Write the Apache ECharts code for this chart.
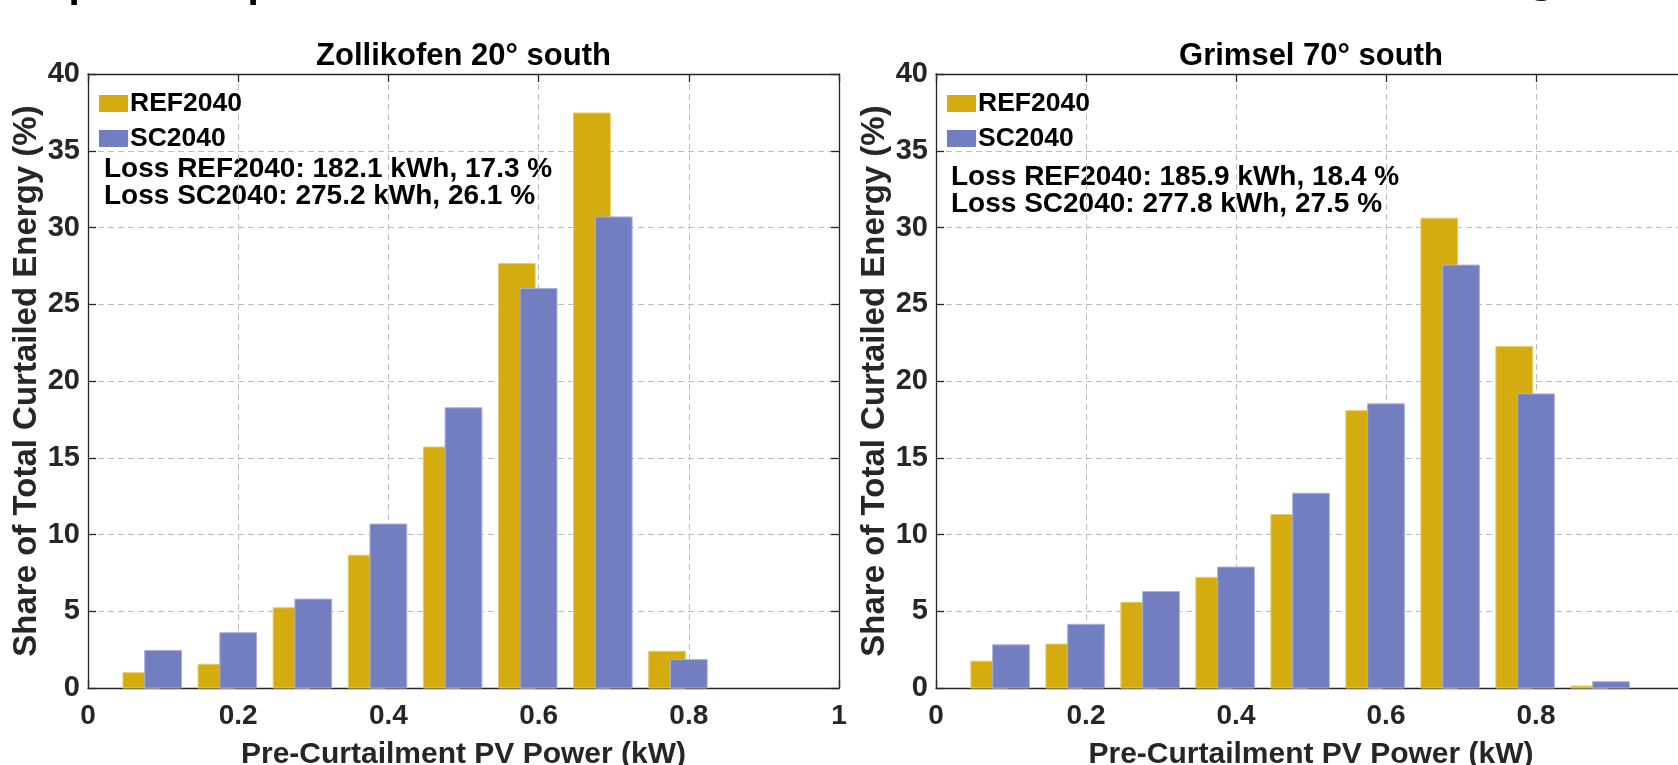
<!DOCTYPE html>
<html>
<head>
<meta charset="utf-8">
<script src="https://cdn.jsdelivr.net/npm/echarts@6/dist/echarts.min.js"></script>
<style>
html,body{margin:0;padding:0;background:#fff;}
#chart{width:1678px;height:765px;}
</style>
</head>
<body>
<div id="chart"></div>
<script>
// ---- data ----
const binCenters = [0.1, 0.2, 0.3, 0.4, 0.5, 0.6, 0.7, 0.8, 0.9];
const zolREF = [1.0, 1.55, 5.23, 8.65, 15.7, 27.65, 37.46, 2.39, 0];
const zolSC  = [2.45, 3.6, 5.79, 10.68, 18.25, 26.03, 30.69, 1.85, 0];
const griREF = [1.75, 2.86, 5.59, 7.21, 11.3, 18.07, 30.61, 22.24, 0.13];
const griSC  = [2.81, 4.15, 6.28, 7.88, 12.69, 18.51, 27.55, 19.16, 0.41];
const seriesNames = ['REF2040', 'SC2040'];
const panelTitles = ['Zollikofen 20° south', 'Grimsel 70° south'];
const lossTexts = [
  ['Loss REF2040: 182.1 kWh, 17.3 %', 'Loss SC2040: 275.2 kWh, 26.1 %'],
  ['Loss REF2040: 185.9 kWh, 18.4 %', 'Loss SC2040: 277.8 kWh, 27.5 %']
];
const xTickLabels = ['0', '0.2', '0.4', '0.6', '0.8', '1'];
const yTickLabels = ['0', '5', '10', '15', '20', '25', '30', '35', '40'];
const xName = 'Pre-Curtailment PV Power (kW)';
const yName = 'Share of Total Curtailed Energy (%)';
const topTitleFragments = ['p', 'p', 'g'];

// ---- style ----
const FONT = "'Liberation Sans', Arial, Helvetica, sans-serif";
const GOLD = '#D4AC10';
const BLUE = '#737EC0';
const AXIS = '#262626';
const GRIDC = '#bdbdbd';
const BAR_W = 0.049;
const OFFSETS = [-0.029, 0];

function pairs(vals) { return binCenters.map((c, i) => [c, vals[i]]); }

function barRender(offset, fill, stroke) {
  return function (params, api) {
    const v = api.value(1);
    if (!(v > 0)) return null;
    const x = api.value(0) + offset;
    const p0 = api.coord([x - BAR_W / 2, v]);
    const p1 = api.coord([x + BAR_W / 2, 0]);
    return {
      type: 'rect',
      shape: { x: p0[0], y: p0[1], width: p1[0] - p0[0], height: p1[1] - p0[1] },
      style: { fill: fill, stroke: stroke, lineWidth: 1 }
    };
  };
}

const grids = [
  { left: 88, top: 74, width: 751, height: 614, outerBoundsMode: 'none', containLabel: false },
  { left: 936, top: 74, width: 750, height: 614, outerBoundsMode: 'none', containLabel: false }
];

const xAxes = [], yAxes = [], series = [], legends = [], titles = [], graphics = [];
const datasets = [[zolREF, zolSC], [griREF, griSC]];

grids.forEach((g, gi) => {
  const common = { gridIndex: gi, type: 'value', min: 0, max: 1, interval: 0.2 };
  xAxes.push(Object.assign({}, common, {
    position: 'bottom',
    name: xName, nameLocation: 'middle', nameGap: 52,
    nameTextStyle: { fontFamily: FONT, fontSize: 30, fontWeight: 'bold', color: AXIS },
    axisLine: { show: true, onZero: false, lineStyle: { color: AXIS, width: 1.3 } },
    axisTick: { show: true, inside: true, length: 8, lineStyle: { color: AXIS, width: 1.3 } },
    axisLabel: {
      show: true, margin: 14, fontFamily: FONT, fontSize: 28, fontWeight: 'bold', color: AXIS,
      showMaxLabel: gi === 0,
      formatter: (v) => xTickLabels[Math.round(v / 0.2)]
    },
    splitLine: { show: true, lineStyle: { color: GRIDC, type: [6, 4], width: 1 } }
  }));
  xAxes.push(Object.assign({}, common, {
    position: 'top',
    axisLine: { show: true, onZero: false, lineStyle: { color: AXIS, width: 1.3 } },
    axisTick: { show: true, inside: true, length: 8, lineStyle: { color: AXIS, width: 1.3 } },
    axisLabel: { show: false },
    splitLine: { show: false }
  }));
  const ycommon = { gridIndex: gi, type: 'value', min: 0, max: 40, interval: 5 };
  yAxes.push(Object.assign({}, ycommon, {
    position: 'left',
    name: yName, nameLocation: 'middle', nameGap: 40,
    nameTextStyle: { fontFamily: FONT, fontSize: 33, fontWeight: 'bold', color: AXIS },
    axisLine: { show: true, onZero: false, lineStyle: { color: AXIS, width: 1.3 } },
    axisTick: { show: true, inside: true, length: 8, lineStyle: { color: AXIS, width: 1.3 } },
    axisLabel: {
      show: true, margin: 8, fontFamily: FONT, fontSize: 29, fontWeight: 'bold', color: AXIS,
      formatter: (v) => yTickLabels[Math.round(v / 5)]
    },
    splitLine: { show: true, lineStyle: { color: GRIDC, type: [6, 4], width: 1 } }
  }));
  yAxes.push(Object.assign({}, ycommon, {
    position: 'right',
    axisLine: { show: true, onZero: false, lineStyle: { color: AXIS, width: 1.3 } },
    axisTick: { show: true, inside: true, length: 8, lineStyle: { color: AXIS, width: 1.3 } },
    axisLabel: { show: false },
    splitLine: { show: false }
  }));

  const colors = [GOLD, BLUE];
  const strokes = ['#e6cc6a', '#a9b0dd'];
  datasets[gi].forEach((vals, si) => {
    series.push({
      type: 'custom',
      name: seriesNames[si],
      xAxisIndex: gi * 2,
      yAxisIndex: gi * 2,
      itemStyle: { color: colors[si] },
      renderItem: barRender(OFFSETS[si], colors[si], strokes[si]),
      encode: { x: 0, y: 1 },
      data: pairs(vals),
      z: 2 + si
    });
  });

  legends.push({
    data: seriesNames.map(n => ({ name: n, icon: 'rect' })),
    orient: 'vertical',
    left: gi === 0 ? 99 : 947,
    top: 90,
    itemWidth: 29, itemHeight: 17, itemGap: 8,
    padding: 0,
    textStyle: { fontFamily: FONT, fontSize: 26.5, fontWeight: 'bold', color: '#000', padding: [0, 0, 0, -3] }
  });

  titles.push({
    text: panelTitles[gi],
    left: g.left + g.width / 2,
    top: 41,
    textAlign: 'center',
    padding: 0,
    textStyle: { fontFamily: FONT, fontSize: 31, fontWeight: 'bold', color: '#000' }
  });

  const lx = gi === 0 ? 104 : 951;
  const ly = gi === 0 ? 155 : 163;
  lossTexts[gi].forEach((t, li) => {
    graphics.push({
      type: 'text', left: lx, top: ly + li * 27,
      style: { text: t, fontFamily: FONT, fontSize: 28, fontWeight: 'bold', fill: '#000' }
    });
  });
});

// fragments of a larger heading cut off at the top edge of the picture
[[67, -26, 'p'], [246, -26, 'p'], [1524, -30, 'g']].forEach((f, i) => {
  graphics.push({
    type: 'text', x: f[0], y: f[1],
    style: { text: topTitleFragments[i], fontFamily: FONT, fontSize: 64, fill: '#000', verticalAlign: 'middle' }
  });
});

const chart = echarts.init(document.getElementById('chart'), null, { renderer: 'canvas' });
chart.setOption({
  animation: false,
  backgroundColor: '#fff',
  title: titles,
  legend: legends,
  grid: grids,
  xAxis: xAxes,
  yAxis: yAxes,
  series: series,
  graphic: graphics
});
</script>
</body>
</html>
